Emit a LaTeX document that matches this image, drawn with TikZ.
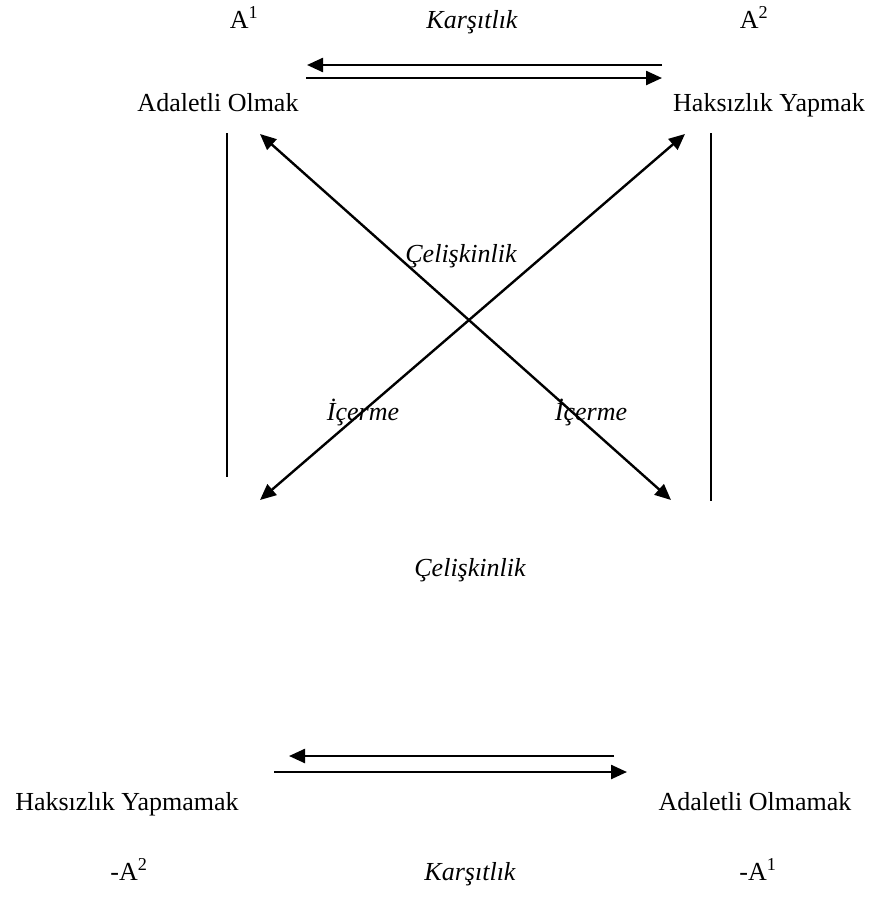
\documentclass[tikz,border=0pt]{standalone}
\usepackage{fontspec}
\setmainfont{Liberation Serif}
\usetikzlibrary{arrows.meta}
\begin{document}
\begin{tikzpicture}[x=1pt,y=-1pt,
  lbl/.style={anchor=base,inner sep=0pt,font=\fontsize{26}{30}\selectfont},
  ilbl/.style={lbl,font=\fontsize{26}{30}\selectfont\itshape},
  arr/.style={line width=2.4pt,-{Triangle[length=16pt,width=14pt]}},
  darr/.style={line width=2.4pt,{Triangle[length=16pt,width=14pt]}-{Triangle[length=16pt,width=14pt]}},
  vline/.style={line width=1.8pt}]
\useasboundingbox (0,0) rectangle (872,897);
% top labels
\node[lbl] (a1) at (244,28) {A\textsuperscript{1}};
\node[ilbl] (kt) at (472,28) {Karşıtlık};
\node[lbl] (a2) at (754,28) {A\textsuperscript{2}};
\node[lbl] (ao) at (218,111) {Adaletli Olmak};
\node[lbl] (hy) at (769,111) {Haksızlık Yapmak};
% middle labels
\node[ilbl] (c1) at (461,262) {Çelişkinlik};
\node[ilbl] (i1) at (363,420) {İçerme};
\node[ilbl] (i2) at (591,420) {İçerme};
\node[ilbl] (c2) at (470,576) {Çelişkinlik};
% bottom labels
\node[lbl] (hym) at (127,810) {Haksızlık Yapmamak};
\node[lbl] (aom) at (755,810) {Adaletli Olmamak};
\node[lbl] (na2) at (129,880) {-A\textsuperscript{2}};
\node[ilbl] (kb) at (470,880) {Karşıtlık};
\node[lbl] (na1) at (758,880) {-A\textsuperscript{1}};
% coordinates
\coordinate (t1s) at (662,65); \coordinate (t1e) at (307,65);
\coordinate (t2s) at (306,78); \coordinate (t2e) at (662,78);
\coordinate (b1s) at (614,756); \coordinate (b1e) at (289,756);
\coordinate (b2s) at (274,772); \coordinate (b2e) at (627,772);
\coordinate (dTL) at (260,134); \coordinate (dBR) at (671,500);
\coordinate (dTR) at (685,134); \coordinate (dBL) at (260,500);
\coordinate (lT) at (227,133); \coordinate (lB) at (227,477);
\coordinate (rT) at (711,133); \coordinate (rB) at (711,501);
% connectors
\draw[arr] (t1s) -- (t1e);
\draw[arr] (t2s) -- (t2e);
\draw[arr] (b1s) -- (b1e);
\draw[arr] (b2s) -- (b2e);
\draw[darr] (dTL) -- (dBR);
\draw[darr] (dTR) -- (dBL);
\draw[vline] (lT) -- (lB);
\draw[vline] (rT) -- (rB);
\end{tikzpicture}
\end{document}
